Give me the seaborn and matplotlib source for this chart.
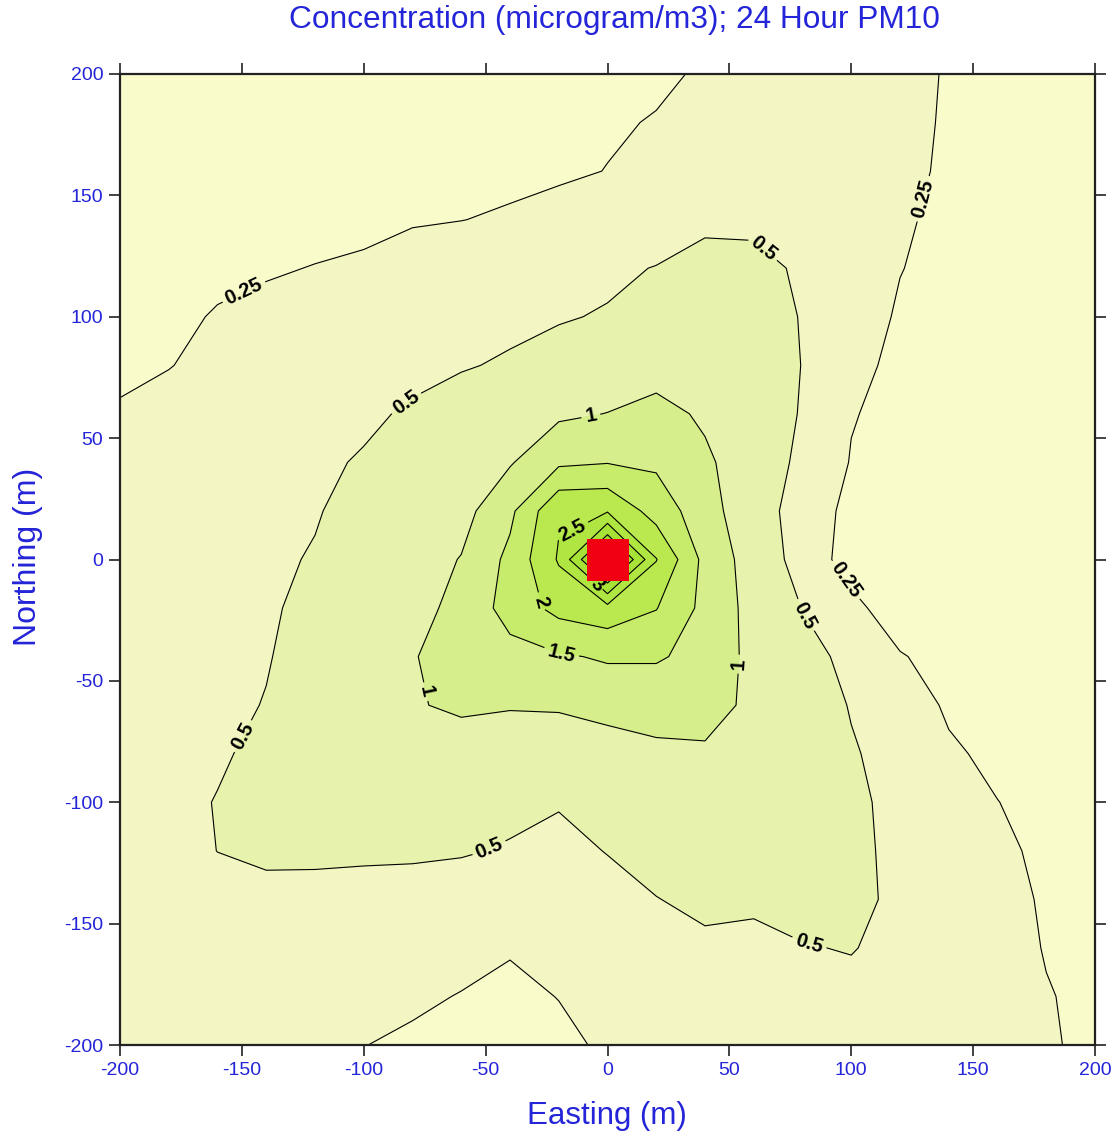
import numpy as np
import matplotlib
matplotlib.use("Agg")
import matplotlib.pyplot as plt
import seaborn as sns

# Receptor grid (m): 20 m spacing, rows listed from north (y=200) to south (y=-200)
easting = list(range(-200, 201, 20))
northing = list(range(200, -201, -20))

# 24-hour PM10 concentration (microgram/m3) at each receptor, one list per northing row
y_p200 = [0.12, 0.12, 0.13, 0.13, 0.14, 0.14, 0.15, 0.16, 0.17, 0.19, 0.21, 0.235, 0.26, 0.29, 0.31, 0.30, 0.27, 0.245, 0.22, 0.20, 0.19]
y_p180 = [0.13, 0.13, 0.14, 0.145, 0.15, 0.16, 0.17, 0.18, 0.20, 0.22, 0.24, 0.255, 0.28, 0.31, 0.33, 0.32, 0.29, 0.235, 0.22, 0.20, 0.19]
y_p160 = [0.14, 0.145, 0.15, 0.16, 0.17, 0.18, 0.19, 0.205, 0.22, 0.235, 0.252, 0.28, 0.31, 0.35, 0.37, 0.35, 0.30, 0.22, 0.21, 0.20, 0.19]
y_p140 = [0.15, 0.16, 0.17, 0.18, 0.20, 0.21, 0.24, 0.248, 0.265, 0.285, 0.31, 0.34, 0.41, 0.44, 0.43, 0.39, 0.27, 0.215, 0.20, 0.19, 0.18]
y_p120 = [0.17, 0.19, 0.22, 0.235, 0.255, 0.275, 0.30, 0.33, 0.36, 0.40, 0.45, 0.51, 0.65, 0.58, 0.46, 0.35, 0.255, 0.20, 0.19, 0.18, 0.17]
y_p100 = [0.19, 0.22, 0.26, 0.29, 0.32, 0.35, 0.38, 0.41, 0.44, 0.48, 0.52, 0.62, 0.72, 0.68, 0.48, 0.34, 0.23, 0.20, 0.19, 0.18, 0.17]
y_p80 = [0.21, 0.245, 0.29, 0.33, 0.37, 0.41, 0.44, 0.48, 0.53, 0.60, 0.68, 0.80, 0.86, 0.76, 0.49, 0.31, 0.20, 0.19, 0.18, 0.18, 0.17]
y_p60 = [0.27, 0.30, 0.34, 0.38, 0.42, 0.46, 0.53, 0.62, 0.75, 0.92, 1.01, 1.15, 0.93, 0.75, 0.47, 0.26, 0.20, 0.18, 0.18, 0.17, 0.17]
y_p40 = [0.30, 0.34, 0.38, 0.42, 0.46, 0.52, 0.62, 0.76, 0.96, 1.41, 1.48, 1.42, 1.08, 0.72, 0.42, 0.24, 0.19, 0.18, 0.17, 0.17, 0.17]
y_p20 = [0.32, 0.35, 0.39, 0.43, 0.48, 0.60, 0.68, 0.83, 1.39, 2.44, 2.45, 1.79, 1.21, 0.655, 0.36, 0.20, 0.17, 0.16, 0.16, 0.16, 0.16]
y_0 = [0.33, 0.36, 0.40, 0.45, 0.52, 0.66, 0.78, 1.02, 1.62, 2.55, 4.60, 2.52, 1.35, 0.77, 0.34, 0.19, 0.17, 0.16, 0.16, 0.16, 0.16]
y_m20 = [0.34, 0.37, 0.41, 0.47, 0.56, 0.70, 0.86, 1.12, 1.70, 2.15, 2.33, 2.02, 1.36, 0.83, 0.49, 0.29, 0.17, 0.16, 0.16, 0.16, 0.16]
y_m40 = [0.35, 0.38, 0.42, 0.485, 0.60, 0.78, 0.98, 1.15, 1.33, 1.45, 1.55, 1.55, 1.354, 0.85, 0.62, 0.41, 0.26, 0.20, 0.18, 0.17, 0.17]
y_m60 = [0.36, 0.39, 0.44, 0.51, 0.66, 0.80, 0.96, 1.08, 1.04, 1.05, 1.20, 1.20, 1.14, 0.92, 0.70, 0.48, 0.33, 0.23, 0.21, 0.20, 0.19]
y_m80 = [0.37, 0.41, 0.47, 0.56, 0.63, 0.70, 0.74, 0.76, 0.68, 0.72, 0.72, 0.90, 0.95, 0.82, 0.68, 0.53, 0.38, 0.27, 0.22, 0.20, 0.19]
y_m100 = [0.36, 0.43, 0.51, 0.56, 0.60, 0.62, 0.62, 0.60, 0.56, 0.52, 0.60, 0.68, 0.74, 0.72, 0.66, 0.56, 0.42, 0.33, 0.252, 0.21, 0.19]
y_m120 = [0.35, 0.42, 0.502, 0.54, 0.55, 0.55, 0.54, 0.52, 0.48, 0.42, 0.51, 0.60, 0.66, 0.66, 0.62, 0.56, 0.44, 0.35, 0.28, 0.22, 0.20]
y_m140 = [0.33, 0.38, 0.43, 0.44, 0.42, 0.39, 0.39, 0.38, 0.35, 0.37, 0.40, 0.493, 0.56, 0.54, 0.57, 0.55, 0.46, 0.36, 0.28, 0.24, 0.21]
y_m160 = [0.31, 0.34, 0.37, 0.37, 0.35, 0.33, 0.31, 0.29, 0.26, 0.30, 0.34, 0.40, 0.45, 0.44, 0.49, 0.51, 0.44, 0.35, 0.29, 0.245, 0.22]
y_m180 = [0.30, 0.32, 0.34, 0.33, 0.31, 0.29, 0.27, 0.245, 0.22, 0.253, 0.30, 0.36, 0.40, 0.41, 0.43, 0.443, 0.40, 0.33, 0.29, 0.255, 0.23]
y_m200 = [0.29, 0.30, 0.31, 0.30, 0.28, 0.252, 0.23, 0.21, 0.20, 0.22, 0.27, 0.33, 0.37, 0.38, 0.39, 0.38, 0.36, 0.32, 0.29, 0.265, 0.22]

# Source location (m)
source_x = [0]
source_y = [0]

# Contour levels and band fill colours
outer_levels = [0.25, 0.5, 1, 1.5, 2, 2.5]
inner_levels = [3, 3.5, 4, 4.5]
fill_levels = [0, 0.25, 0.5, 1, 1.5, 2, 2.5, 3, 3.5, 4, 4.5, 5]
fill_colors = ["#FAFBCB", "#F3F6C2", "#E7F2AC", "#D6EF8C", "#C7EC6C", "#B9E94E",
               "#B0E642", "#A7E237", "#9EDE2C", "#95DA22", "#8CD71A"]

tick_values = [-200, -150, -100, -50, 0, 50, 100, 150, 200]

rows = [y_p200, y_p180, y_p160, y_p140, y_p120, y_p100, y_p80, y_p60, y_p40, y_p20, y_0,
        y_m20, y_m40, y_m60, y_m80, y_m100, y_m120, y_m140, y_m160, y_m180, y_m200]
conc = np.array(rows)[::-1]
yy = np.array(northing)[::-1]
xx = np.array(easting)

sns.set_theme(style="ticks")
plt.rcParams["font.family"] = ["Liberation Sans", "DejaVu Sans"]
plt.rcParams["axes.unicode_minus"] = False

blue = "#2424D8"

fig = plt.figure(figsize=(11.18, 11.39), dpi=100)
ax = fig.add_axes([120 / 1118, 1 - 1045 / 1139, 975 / 1118, 971 / 1139])

ax.contourf(xx, yy, conc, levels=fill_levels, colors=fill_colors)
cs_outer = ax.contour(xx, yy, conc, levels=outer_levels, colors="black", linewidths=0.8)
cs_inner = ax.contour(xx, yy, conc, levels=inner_levels, colors="black", linewidths=0.8)


def level_text(v):
    return f"{v:g}"


outer_spots = [(-150, 112), (128, 149), (97, -9),
               (-83, 65), (63, 127), (81, -23), (-151, -72), (-49, -118), (83, -157),
               (-7, 60), (52, -43), (-77, -55),
               (-19, -39), (-26, -17), (-15, 13)]
labels = list(ax.clabel(cs_outer, manual=outer_spots, inline=True, inline_spacing=4,
                        fmt=level_text, fontsize=14.5))
labels += list(ax.clabel(cs_inner, levels=[3], manual=[(-5, -11)], inline=True,
                         inline_spacing=2, fmt=level_text, fontsize=14.5))
for t in labels:
    t.set_fontweight("bold")
    t.set_color("black")

ax.plot(source_x, source_y, marker="s", markersize=30, color="#F00010",
        markeredgewidth=0, linestyle="none", zorder=6)

ax.set_xlim(-200, 200)
ax.set_ylim(-200, 200)
ax.set_xticks(tick_values)
ax.set_yticks(tick_values)
ax.tick_params(direction="out", length=8, width=1.2, color="#222222",
               top=True, right=True, labeltop=False, labelright=False,
               labelcolor=blue, labelsize=14, pad=4)
for sp in ax.spines.values():
    sp.set_visible(True)
    sp.set_linewidth(1.6)
    sp.set_color("#222222")

fig.text(614 / 1118, 1 - 20 / 1139, "Concentration (microgram/m3); 24 Hour PM10",
         ha="center", va="center", color=blue, fontsize=22.8)
fig.text(607 / 1118, 1 - 1116 / 1139, "Easting (m)", ha="center", va="center",
         color=blue, fontsize=22.5)
fig.text(28 / 1118, 1 - 557 / 1139, "Northing (m)", ha="center", va="center",
         rotation=90, color=blue, fontsize=23)

fig.savefig("out.png", dpi=100)
